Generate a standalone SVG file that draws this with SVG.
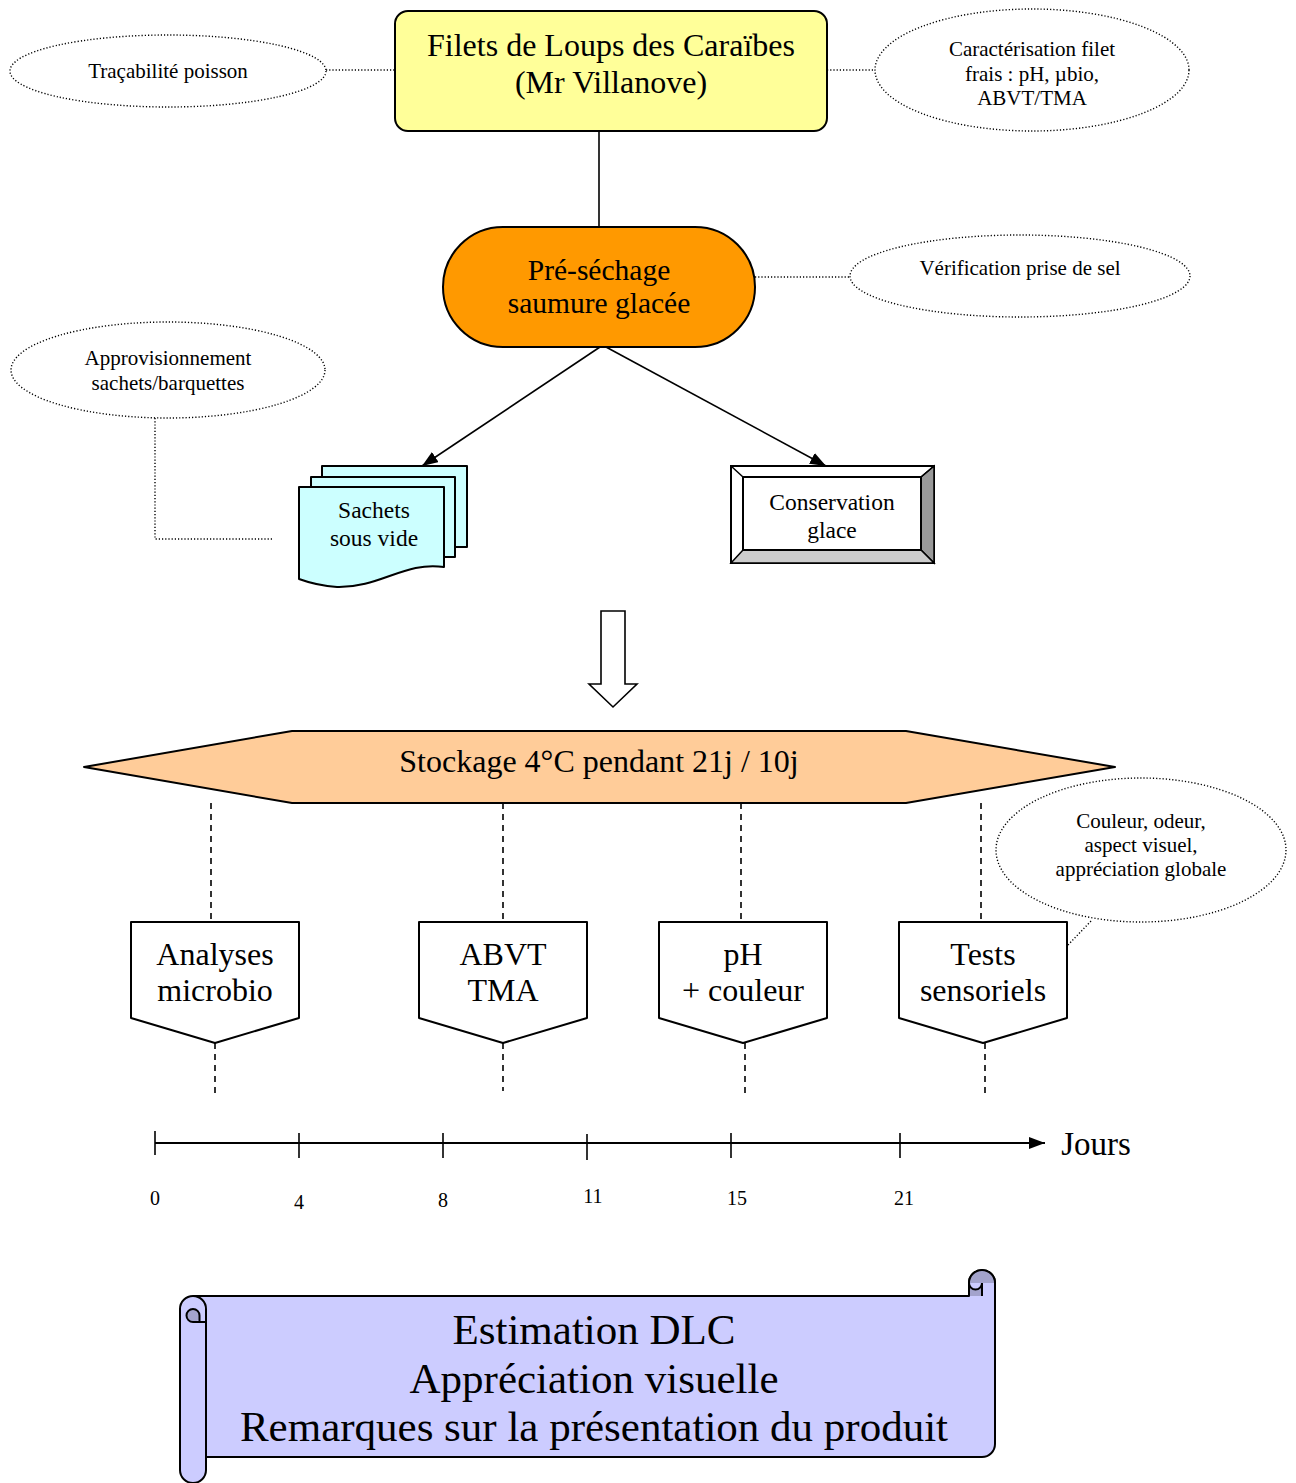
<svg xmlns="http://www.w3.org/2000/svg" width="1296" height="1483" viewBox="0 0 1296 1483">
<defs>
<style>
text{font-family:"Liberation Serif","Times New Roman",serif;fill:#000;text-anchor:middle}
.s18{font-size:21px}.s20{font-size:23.5px}.s26{font-size:29.5px}.s28{font-size:32px}.s40{font-size:43px}.tk{font-size:20px}.jr{font-size:33px}
.note{fill:#fff;stroke:#000;stroke-width:1.4;stroke-dasharray:1.2 2}
.dot{fill:none;stroke:#000;stroke-width:1.4;stroke-dasharray:1.2 2}
.dash{fill:none;stroke:#000;stroke-width:1.6;stroke-dasharray:6 5}
.ln{fill:none;stroke:#000;stroke-width:1.6}
.sh{stroke:#000;stroke-width:2;stroke-linejoin:round}
</style>
<marker id="ah2" viewBox="0 0 16 12" refX="16" refY="6" markerWidth="16" markerHeight="12" markerUnits="userSpaceOnUse" orient="auto">
<path d="M0,0 L16,6 L0,12 Z" fill="#000"/>
</marker>
</defs>

<g id="connectors">
<line class="ln" x1="599" y1="131" x2="599" y2="227"/>
<line class="ln" x1="600" y1="347" x2="422" y2="466" marker-end="url(#ah2)"/>
<line class="ln" x1="606" y1="347" x2="826" y2="466" marker-end="url(#ah2)"/>
<line class="dot" x1="326" y1="70" x2="395" y2="70"/>
<line class="dot" x1="827" y1="70" x2="876" y2="70"/>
<line class="dot" x1="755" y1="277" x2="851" y2="277"/>
<polyline class="dot" points="155,418 155,539 272,539"/>
<line class="dot" x1="1068" y1="945" x2="1092" y2="920"/>
<line class="dash" x1="211" y1="803" x2="211" y2="922"/>
<line class="dash" x1="503" y1="803" x2="503" y2="922"/>
<line class="dash" x1="741" y1="803" x2="741" y2="922"/>
<line class="dash" x1="981" y1="803" x2="981" y2="922"/>
<line class="dash" x1="215" y1="1043" x2="215" y2="1095"/>
<line class="dash" x1="503" y1="1043" x2="503" y2="1091"/>
<line class="dash" x1="745" y1="1043" x2="745" y2="1095"/>
<line class="dash" x1="985" y1="1043" x2="985" y2="1095"/>
<path d="M601,611 H625 V684 H637 L613,707 L589,684 H601 Z" fill="#fff" stroke="#000" stroke-width="1.6"/>
</g>

<g id="filets">
<rect x="395" y="11" width="432" height="120" rx="13" fill="#FFFF99" class="sh"/>
<text class="s28" x="611" y="56">Filets de Loups des Caraïbes</text>
<text class="s28" x="611" y="93">(Mr Villanove)</text>
</g>

<g id="note-tracabilite">
<ellipse class="note" cx="168" cy="71" rx="158" ry="36"/>
<text class="s18" x="168" y="78">Traçabilité poisson</text>
</g>

<g id="note-caracterisation">
<ellipse class="note" cx="1032" cy="70" rx="157" ry="61"/>
<text class="s18" x="1032" y="56">Caractérisation filet</text>
<text class="s18" x="1032" y="81">frais : pH, µbio,</text>
<text class="s18" x="1032" y="105">ABVT/TMA</text>
</g>

<g id="presechage">
<rect x="443" y="227" width="312" height="120" rx="60" fill="#FF9900" class="sh"/>
<text class="s26" x="599" y="280">Pré-séchage</text>
<text class="s26" x="599" y="313">saumure glacée</text>
</g>

<g id="note-verification">
<ellipse class="note" cx="1020" cy="276" rx="170" ry="41"/>
<text class="s18" x="1020" y="275">Vérification prise de sel</text>
</g>

<g id="note-approvisionnement">
<ellipse class="note" cx="168" cy="370" rx="157" ry="48"/>
<text class="s18" x="168" y="365">Approvisionnement</text>
<text class="s18" x="168" y="390">sachets/barquettes</text>
</g>

<g id="sachets">
<rect x="322" y="466" width="145" height="81" fill="#CCFFFF" class="sh"/>
<rect x="311" y="477" width="144" height="80" fill="#CCFFFF" class="sh"/>
<path d="M299,487 H444 V567 C405,561 380,588 337,587 C322,586 310,583 299,579 Z" fill="#CCFFFF" class="sh"/>
<text class="s20" x="374" y="518">Sachets</text>
<text class="s20" x="374" y="546">sous vide</text>
</g>

<g id="conservation">
<rect x="731" y="466" width="203" height="97" fill="#fff" stroke="#000" stroke-width="2"/>
<path d="M921,477 L934,466 L934,563 L921,550 Z" fill="#999999" stroke="#000" stroke-width="1.5"/>
<path d="M743,550 L921,550 L934,563 L731,563 Z" fill="#CCCCCC" stroke="#000" stroke-width="1.5"/>
<path d="M731,466 L743,477 M934,466 L921,477" stroke="#000" stroke-width="1.5"/>
<rect x="743" y="477" width="178" height="73" fill="#fff" stroke="#000" stroke-width="2"/>
<text class="s20" x="832" y="510">Conservation</text>
<text class="s20" x="832" y="538">glace</text>
</g>

<g id="stockage">
<polygon points="84,767 292,731 906,731 1115,767 906,803 292,803" fill="#FFCC99" class="sh"/>
<text class="s28" x="599" y="772">Stockage 4°C pendant 21j / 10j</text>
</g>

<g id="analyses">
<polygon points="131,922 299,922 299,1018 215,1043 131,1018" fill="#fff" class="sh"/>
<text class="s28" x="215" y="965">Analyses</text>
<text class="s28" x="215" y="1001">microbio</text>
</g>

<g id="abvt">
<polygon points="419,922 587,922 587,1018 503,1043 419,1018" fill="#fff" class="sh"/>
<text class="s28" x="503" y="965">ABVT</text>
<text class="s28" x="503" y="1001">TMA</text>
</g>

<g id="ph">
<polygon points="659,922 827,922 827,1018 743,1043 659,1018" fill="#fff" class="sh"/>
<text class="s28" x="743" y="965">pH</text>
<text class="s28" x="743" y="1001">+ couleur</text>
</g>

<g id="tests">
<polygon points="899,922 1067,922 1067,1018 983,1043 899,1018" fill="#fff" class="sh"/>
<text class="s28" x="983" y="965">Tests</text>
<text class="s28" x="983" y="1001">sensoriels</text>
</g>

<g id="note-couleur">
<ellipse class="note" cx="1141" cy="850" rx="145" ry="72"/>
<text class="s18" x="1141" y="828">Couleur, odeur,</text>
<text class="s18" x="1141" y="852">aspect visuel,</text>
<text class="s18" x="1141" y="876">appréciation globale</text>
</g>

<g id="timeline">
<line x1="155" y1="1143" x2="1045" y2="1143" stroke="#000" stroke-width="2" marker-end="url(#ah2)"/>
<line class="ln" x1="155" y1="1131" x2="155" y2="1155"/>
<line class="ln" x1="299" y1="1133" x2="299" y2="1158"/>
<line class="ln" x1="443" y1="1133" x2="443" y2="1158"/>
<line class="ln" x1="587" y1="1134" x2="587" y2="1160"/>
<line class="ln" x1="731" y1="1133" x2="731" y2="1158"/>
<line class="ln" x1="900" y1="1133" x2="900" y2="1158"/>
<text class="tk" x="155" y="1205">0</text>
<text class="tk" x="299" y="1209">4</text>
<text class="tk" x="443" y="1207">8</text>
<text class="tk" x="593" y="1203">11</text>
<text class="tk" x="737" y="1205">15</text>
<text class="tk" x="904" y="1205">21</text>
<text class="jr" x="1096" y="1155">Jours</text>
</g>

<g id="scroll">
<path d="M193,1296 L969,1296 L969,1283 A13,13 0 0 1 995,1283 L995,1444 A13,13 0 0 1 982,1457 L206,1457 L206,1470 A13,13 0 0 1 180,1470 L180,1309 A13,13 0 0 1 193,1296 Z" fill="#CCCCFF" class="sh"/>
<path d="M995,1283 A13,13 0 0 0 969,1283 L969,1296 L982,1296 L982,1283 A6.5,6.5 0 0 1 969,1283" fill="#A3A3CC" stroke="none"/>
<path d="M969,1296 L969,1283 A13,13 0 0 1 995,1283 M982,1296 L982,1283 A6.5,6.5 0 0 1 969,1283" fill="none" stroke="#000" stroke-width="2"/>
<path d="M193,1322 A6.5,6.5 0 0 1 193,1309 A6.5,6.5 0 0 1 199.5,1315.5 L199.5,1320 Z" fill="#A3A3CC" stroke="none"/>
<path d="M206,1457 L206,1309 A13,13 0 0 0 193,1296 M206,1322 L193,1322 A6.5,6.5 0 0 1 193,1309 A6.5,6.5 0 0 1 199.5,1315.5 L199.5,1322" fill="none" stroke="#000" stroke-width="2"/>
<text class="s40" x="594" y="1344">Estimation DLC</text>
<text class="s40" x="594" y="1393">Appréciation visuelle</text>
<text class="s40" x="594" y="1441">Remarques sur la présentation du produit</text>
</g>
</svg>
